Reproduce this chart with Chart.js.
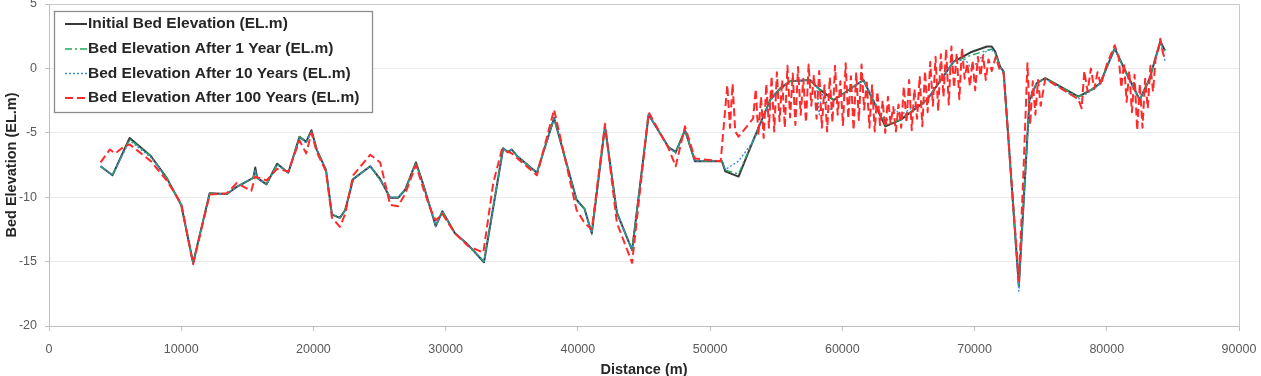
<!DOCTYPE html>
<html><head><meta charset="utf-8">
<script src="https://cdn.jsdelivr.net/npm/chart.js@4.4.1/dist/chart.umd.min.js"></script>
<style>html,body{margin:0;padding:0;background:#fff;overflow:hidden}canvas{display:block}</style>
</head><body>
<canvas id="c" width="1261" height="376"></canvas>
<script>
// ---- Data (distance m, bed elevation EL.m) ----
const seriesNames = ["Initial Bed Elevation (EL.m)","Bed Elevation After 1 Year (EL.m)","Bed Elevation After 10 Years (EL.m)","Bed Elevation After 100 Years (EL.m)"];
const xTicks = [0,10000,20000,30000,40000,50000,60000,70000,80000,90000];
const yTicks = [-20,-15,-10,-5,0,5];

const initialDist = [3900,4800,6100,7700,8900,10000,10900,12150,13450,14200,15450,15600,15750,16450,17250,18100,18950,19450,19850,20250,20950,21400,22000,22400,23000,24300,25050,25800,26400,26950,27750,28300,28800,29250,29750,30700,31700,32900,34350,34700,35000,35400,36900,38200,39900,40500,41050,42050,42950,44100,45350,46850,47400,48100,48850,50900,51150,52150,53300,54550,55300,56050,57550,58300,59350,61600,63250,64400,66400,68400,69700,70950,71300,71560,71930,72200,73350,74150,74700,75350,77850,78850,79500,80600,81500,82500,83250,84050,84400];
const initialElev = [-7.6,-8.3,-5.4,-6.8,-8.5,-10.6,-15.1,-9.7,-9.75,-9.2,-8.5,-7.7,-8.5,-9.0,-7.4,-8.1,-5.3,-5.7,-4.8,-6.3,-7.9,-11.35,-11.6,-11.0,-8.6,-7.6,-8.6,-10.05,-10.05,-9.4,-7.3,-9.0,-10.7,-12.25,-11.1,-12.8,-13.7,-15.05,-6.2,-6.5,-6.3,-6.8,-8.1,-3.85,-10.2,-10.9,-12.8,-4.5,-11.2,-14.1,-3.6,-6.1,-6.5,-4.8,-7.2,-7.2,-8.0,-8.4,-5.5,-2.45,-1.55,-1.0,-0.9,-1.65,-2.45,-0.9,-4.5,-4.0,-2.45,0.5,1.25,1.7,1.7,1.3,0.15,-0.25,-16.9,-2.45,-1.15,-0.75,-2.2,-1.65,-1.15,1.55,-0.4,-2.45,-0.75,2.1,1.4];

const year1Dist = [3900,4800,6100,7700,8900,10000,10900,12150,13450,14200,15450,15600,15750,16450,17250,18100,18950,19450,19850,20250,20950,21400,22000,22400,23000,24300,25050,25800,26400,26950,27750,28300,28800,29250,29750,30700,31700,32900,34350,34700,35000,35400,36900,38200,39900,40500,41050,42050,42950,44100,45350,46850,47400,48100,48850,50900,51150,52150,53300,54550,55300,56050,57550,58300,59350,61600,63250,64400,66400,68400,69700,70950,71300,71560,71930,72200,73350,74150,74700,75350,77850,78850,79500,80600,81500,82500,83250,84050,84400];
const year1Elev = [-7.6,-8.3,-5.5,-6.8,-8.5,-10.6,-15.1,-9.7,-9.75,-9.2,-8.5,-7.9,-8.5,-9.0,-7.4,-8.1,-5.3,-5.7,-4.9,-6.3,-7.9,-11.3,-11.6,-11.0,-8.6,-7.6,-8.6,-10.0,-10.0,-9.4,-7.3,-9.0,-10.7,-12.2,-11.1,-12.8,-13.7,-15.0,-6.2,-6.5,-6.3,-6.8,-8.1,-3.9,-10.2,-10.9,-12.8,-4.5,-11.2,-14.1,-3.6,-6.1,-6.5,-4.8,-7.2,-7.2,-7.9,-8.2,-5.5,-2.45,-1.55,-1.0,-0.9,-1.65,-2.45,-0.9,-4.4,-4.0,-2.45,0.5,1.0,1.4,1.5,1.2,0.15,-0.25,-16.9,-2.45,-1.15,-0.75,-2.2,-1.65,-1.15,1.5,-0.4,-2.4,-0.75,2.0,1.3];

const year10Dist = [3900,4800,6100,7700,8900,10000,10900,12150,13450,14200,15450,15600,15750,16450,17250,18100,18950,19450,19850,20250,20950,21400,22000,22400,23000,24300,25050,25800,26400,26950,27750,28300,28800,29250,29750,30700,31700,32900,34350,34700,35000,35400,36900,38200,39900,40500,41050,42050,42950,44100,45350,46850,47400,48100,48850,50900,51150,52150,53300,54550,55300,56050,57550,58050,58250,58450,59150,59350,61600,63250,64000,64400,66400,68400,69300,69800,70050,70950,71300,71560,71930,72200,73350,74150,74700,75350,77850,78850,79500,80600,81500,82500,83250,84050,84400];
const year10Elev = [-7.6,-8.3,-5.6,-6.9,-8.5,-10.6,-15.2,-9.7,-9.75,-9.2,-8.5,-7.9,-8.5,-9.0,-7.5,-8.1,-5.4,-5.8,-4.9,-6.3,-7.9,-11.3,-11.6,-11.0,-8.6,-7.6,-8.7,-10.0,-10.0,-9.4,-7.4,-9.0,-10.7,-12.3,-11.1,-12.8,-13.7,-15.0,-6.2,-6.5,-6.3,-6.8,-8.1,-3.9,-10.3,-10.9,-12.9,-4.5,-11.2,-14.1,-3.6,-6.1,-6.6,-4.8,-7.2,-7.2,-7.85,-7.2,-5.6,-2.5,-1.6,-1.0,-0.9,-1.3,-3.6,-1.9,-3.3,-2.5,-0.9,-4.2,-3.2,-3.6,-2.4,0.5,0.7,-0.1,0.3,1.4,1.5,1.2,0.1,-0.3,-17.3,-2.45,-1.15,-0.8,-2.4,-1.7,-1.2,1.5,-0.5,-2.5,-0.8,2.0,0.6];

const year100Dist = [3900,4600,5000,5500,6100,7700,8900,10000,10900,12150,13450,14200,15300,15600,16450,17250,18100,18950,19450,19850,20250,20950,21400,22000,22400,23000,24300,25050,25800,26400,26950,27750,28300,28800,29250,29750,30700,31700,32850,33600,34250,35000,36900,38200,39900,40500,41050,42050,42950,44100,45350,46850,47400,48100,48850,50800,51300,51500,51700,51900,52150,53250,53450,53650,53850,54050,54250,54450,54650,54850,55050,55250,55450,55650,55850,56050,56250,56450,56650,56850,57050,57250,57450,57650,57850,58050,58250,58450,58650,58850,59050,59250,59450,59650,59850,60050,60250,60450,60650,60850,61050,61250,61450,61650,61850,62050,62250,62450,62650,62850,63050,63250,63450,63650,63850,64050,64250,64450,64650,64850,65050,65250,65450,65650,65850,66050,66250,66450,66650,66850,67050,67250,67450,67650,67850,68050,68250,68450,68650,68850,69050,69250,69450,69650,69850,70050,70250,70450,70650,70850,71050,71300,71600,71900,72200,73350,73700,73850,74000,74200,74400,74600,74800,75000,75350,77850,78100,78300,78550,78800,79050,79300,79550,80000,80600,80900,81100,81300,81500,81700,81900,82100,82300,82500,82700,82900,83100,83300,83500,83700,83900,84050,84250,84400];
const year100Elev = [-7.3,-6.3,-6.6,-6.2,-5.9,-7.2,-8.7,-10.5,-15.2,-9.8,-9.7,-8.9,-9.5,-8.4,-8.7,-7.8,-8.0,-5.6,-6.6,-5.0,-6.5,-8.0,-11.6,-12.3,-11.3,-8.3,-6.7,-7.3,-10.6,-10.7,-9.7,-7.5,-9.3,-10.8,-11.8,-11.3,-12.8,-13.8,-14.3,-8.9,-6.3,-6.6,-8.3,-3.2,-11.0,-12.0,-12.5,-4.3,-12.0,-15.1,-3.4,-6.2,-7.6,-4.5,-7.0,-7.2,-1.3,-4.6,-1.2,-4.9,-5.3,-3.9,-1.6,-5.2,-2.2,-5.4,-1.2,-4.6,-0.6,-4.9,-0.3,-4.1,-0.9,-4.6,0.2,-3.8,-0.4,-4.4,0.1,-3.6,-0.8,-4.2,0.3,-2.9,-0.5,-3.9,-0.2,-4.6,-1.3,-4.9,-0.7,-4.2,0.2,-3.6,-1.0,-4.4,0.4,-3.9,-0.6,-4.8,-0.3,-4.0,0.3,-3.2,-1.1,-4.6,-1.3,-4.9,-1.8,-4.4,-2.5,-5.0,-2.2,-4.3,-3.0,-4.9,-2.8,-4.6,-1.4,-4.2,-0.9,-4.8,-1.6,-3.9,-0.6,-4.5,-0.2,-3.4,0.5,-2.9,0.9,-3.3,1.1,-2.2,1.5,-2.8,1.7,-1.5,1.2,-2.4,1.6,-0.8,0.4,-1.4,0.6,-1.7,0.9,-0.6,1.0,-0.9,0.7,-0.2,0.9,-0.1,-0.4,-16.5,-8.0,-3.8,0.4,-4.4,-1.0,-3.6,-0.9,-2.9,-0.8,-2.4,-3.1,-0.2,-1.8,0.0,-1.6,-0.3,-1.3,0.3,1.8,0.9,-1.5,0.4,-2.6,-0.2,-3.4,-0.5,-4.8,-1.2,-4.6,-0.8,-3.1,0.2,-1.8,0.9,1.5,2.3,1.2,0.7];

function pts(xs, ys){ return xs.map((x,i)=>({x:x, y:ys[i]})); }

const colors = ['#3a3a3a','#22a85a','#3d8ed0','#ff2a2a'];
const dashes = [[],[7,3,2,3],[2,2],[8,4]];
const widths = [2,1.4,1.4,2];

// custom legend drawn inside plot area
const boxLegend = {
  id:'boxLegend',
  afterDraw(chart){
    const ctx = chart.ctx;
    const x0=54.5, y0=11.5, w=318, h=101;
    ctx.save();
    ctx.fillStyle='#fff';
    ctx.fillRect(x0,y0,w,h);
    ctx.strokeStyle='#8c8c8c';
    ctx.lineWidth=1.3;
    ctx.strokeRect(x0,y0,w,h);
    const rows=[24,49,73.5,98];
    ctx.font='bold 15.5px "Liberation Sans", Arial, sans-serif';
    ctx.textBaseline='middle';
    for(let i=0;i<4;i++){
      ctx.beginPath();
      ctx.setLineDash(dashes[i]);
      ctx.strokeStyle=colors[i];
      ctx.lineWidth=widths[i];
      ctx.moveTo(65,rows[i]); ctx.lineTo(87,rows[i]);
      ctx.stroke();
      ctx.setLineDash([]);
      ctx.fillStyle='#262626';
      ctx.fillText(seriesNames[i], 88, rows[i]);
    }
    ctx.restore();
  }
};

const frame = {
  id:'frame',
  beforeDatasetsDraw(chart){
    const a=chart.chartArea, ctx=chart.ctx;
    ctx.save();
    ctx.strokeStyle='#c8c8c8'; ctx.lineWidth=1;
    ctx.beginPath();
    ctx.moveTo(a.left, a.top+0.5); ctx.lineTo(a.right+0.5, a.top+0.5); ctx.lineTo(a.right+0.5, a.bottom);
    ctx.stroke();
    ctx.restore();
  }
};

const datasets = [
  {label:seriesNames[3], data:pts(year100Dist,year100Elev), order:0},
  {label:seriesNames[2], data:pts(year10Dist,year10Elev), order:1},
  {label:seriesNames[1], data:pts(year1Dist,year1Elev), order:2},
  {label:seriesNames[0], data:pts(initialDist,initialElev), order:3}
].map(d=>{
  const i = seriesNames.indexOf(d.label);
  return Object.assign(d,{borderColor:colors[i], borderDash:dashes[i], borderWidth:widths[i], pointRadius:0, tension:0, fill:false, borderJoinStyle:'round'});
});

new Chart(document.getElementById('c'), {
  type:'line',
  data:{datasets},
  options:{
    responsive:false, animation:false, devicePixelRatio:1,
    layout:{padding:{top:4,right:22,left:0,bottom:0}},
    plugins:{legend:{display:false}, tooltip:{enabled:false}},
    scales:{
      x:{type:'linear', min:0, max:90000,
        afterBuildTicks(s){ s.ticks = xTicks.map(v=>({value:v})); },
        afterFit(s){ s.height = 50; s.paddingLeft = 0; s.paddingRight = 0; },
        ticks:{color:'#595959', padding:11, maxRotation:0, font:{family:'"Liberation Sans", Arial, sans-serif', size:12.5}, callback:v=>String(v)},
        grid:{drawOnChartArea:false, tickLength:5, color:'#bfbfbf', tickColor:'#bfbfbf'},
        border:{color:'#bfbfbf', width:1},
        title:{display:true, text:'Distance (m)', color:'#262626', font:{family:'"Liberation Sans", Arial, sans-serif', size:14.5, weight:'bold'}, padding:{top:0,bottom:-3}}
      },
      y:{min:-20, max:5,
        afterBuildTicks(s){ s.ticks = yTicks.map(v=>({value:v})); },
        afterFit(s){ s.width = 49; s.paddingTop = 0; s.paddingBottom = 0; },
        ticks:{color:'#595959', padding:8, font:{family:'"Liberation Sans", Arial, sans-serif', size:12.5}},
        grid:{color:'#ebebeb', tickLength:4, tickColor:'#bfbfbf'},
        border:{color:'#bfbfbf', width:1},
        title:{display:true, text:'Bed Elevation (EL.m)', color:'#262626', font:{family:'"Liberation Sans", Arial, sans-serif', size:14.5, weight:'bold'}, padding:{top:3,bottom:0}}
      }
    }
  },
  plugins:[frame, boxLegend]
});
</script>
</body></html>
